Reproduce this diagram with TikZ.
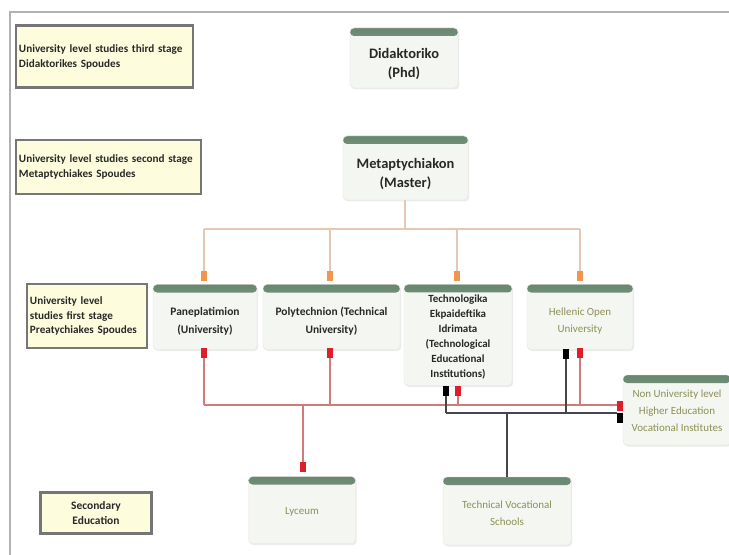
\documentclass[tikz,border=0pt]{standalone}
\usepackage{fontspec}
\setmainfont{Carlito}
\usetikzlibrary{shadows}
\definecolor{hdrA}{RGB}{105,135,112}
\definecolor{hdrB}{RGB}{165,188,170}
\definecolor{nfill}{RGB}{244,246,241}
\definecolor{lblfill}{RGB}{253,253,222}
\definecolor{lbldraw}{RGB}{118,118,118}
\definecolor{olivetxt}{RGB}{140,145,85}
\definecolor{tanline}{RGB}{228,200,178}
\definecolor{orsq}{RGB}{240,150,80}
\definecolor{redsq}{RGB}{222,30,42}
\definecolor{redline}{RGB}{212,120,120}
\definecolor{blkline}{RGB}{70,70,70}
\definecolor{txtdark}{RGB}{40,40,40}
\begin{document}
\begin{tikzpicture}[x=1bp,y=-1bp,
  gnode/.style={rectangle, rounded corners=4bp, fill=nfill, draw=black!10,
    drop shadow={opacity=0.15,shadow xshift=1.2bp,shadow yshift=-1.5bp},
    align=center, inner sep=2bp, text=txtdark,
    path picture={\shade[top color=hdrA, bottom color=hdrB]
      (path picture bounding box.north west) rectangle ([yshift=-8bp]path picture bounding box.north east);}},
  big/.style={font=\bfseries\fontsize{14.5}{19}\selectfont},
  mid/.style={font=\bfseries\fontsize{11.5}{18}\selectfont},
  pale/.style={font=\fontsize{11}{17}\selectfont, text=olivetxt},
  lbl/.style={rectangle, fill=lblfill, draw=lbldraw, line width=2.5bp, align=left,
    font=\bfseries\fontsize{11.2}{15}\selectfont, text=txtdark, inner xsep=3bp},
  sq/.style={rectangle, minimum width=6bp, minimum height=10bp, inner sep=0pt},
  tan/.style={draw=tanline, line width=1.2bp},
  redl/.style={draw=redline, line width=1.2bp},
  blkl/.style={draw=blkline, line width=1.2bp}
]
\useasboundingbox (0,0) rectangle (729,555);
\fill[white] (0,0) rectangle (729,555);
% frame
\draw[black!30, line width=1.5bp] (10,555) -- (10,12) -- (729,12);

% label boxes
\node[lbl, minimum width=177bp, minimum height=62bp, text width=171bp] (l1) at (104.5,56.5)
  {University level studies third stage\\Didaktorikes Spoudes};
\node[lbl, minimum width=185bp, minimum height=54bp, text width=179bp] (l2) at (108.5,167)
  {University level studies second stage\\Metaptychiakes Spoudes};
\node[lbl, minimum width=120bp, minimum height=64bp, text width=114bp] (l3) at (87,316)
  {University level\\studies first stage\\Preatychiakes Spoudes};
\node[lbl, minimum width=111bp, minimum height=41bp, align=center,
  font=\bfseries\fontsize{11.5}{15.5}\selectfont] (l4) at (96,513)
  {Secondary\\Education};

% main nodes
\node[gnode, big, minimum width=108bp, minimum height=60bp] (phd) at (404,58) {\\[4bp]Didaktoriko\\(Phd)};
\node[gnode, big, minimum width=125bp, minimum height=64bp] (master) at (405.5,168) {\\[4bp]Metaptychiakon\\(Master)};
\node[gnode, mid, minimum width=104bp, minimum height=65bp] (pan) at (205,317) {\\[-2bp]Paneplatimion\\(University)};
\node[gnode, mid, minimum width=137bp, minimum height=65bp] (poly) at (331.5,317) {\\[-2bp]Polytechnion (Technical\\University)};
\node[gnode, mid, font=\bfseries\fontsize{11}{15}\selectfont, minimum width=108bp, minimum height=101bp] (tei) at (458,335)
  {\\[-4bp]Technologika\\Ekpaideftika\\Idrimata\\(Technological\\Educational\\Institutions)};
\node[gnode, pale, minimum width=106bp, minimum height=65bp] (hou) at (580,317) {\\[-2bp]Hellenic Open\\University};
\node[gnode, pale, minimum width=108bp, minimum height=70bp] (nonu) at (677,410)
  {\\[-8bp]Non University level\\Higher Education\\Vocational Institutes};
\node[gnode, pale, minimum width=107bp, minimum height=67bp] (lyc) at (302,510) {\\[-7bp]Lyceum};
\node[gnode, pale, minimum width=128bp, minimum height=68bp] (tvs) at (507,511) {\\[-4bp]Technical Vocational\\Schools};

% phd -> master
\draw[draw=black!35, double=white, double distance=1.6bp, line width=0.6bp] (406,92) -- (406,119);

% orange connectors
\coordinate (bm) at (405,229);
\coordinate (b1) at (204,229);
\coordinate (b2) at (330,229);
\coordinate (b3) at (457,229);
\coordinate (b4) at (580,229);
\node[sq, fill=orsq] (o1) at (204,276) {};
\node[sq, fill=orsq] (o2) at (330,276) {};
\node[sq, fill=orsq] (o3) at (457,276) {};
\node[sq, fill=orsq] (o4) at (580,276) {};
\draw[tan] (master.south -| bm) -- (bm);
\draw[tan] (b1) -- (b4);
\draw[tan] (b1) -- (o1.north);
\draw[tan] (b2) -- (o2.north);
\draw[tan] (b3) -- (o3.north);
\draw[tan] (b4) -- (o4.north);

% red / black squares
\node[sq, fill=redsq] (r1) at (204,353) {};
\node[sq, fill=redsq] (r2) at (330,353) {};
\node[sq, fill=black] (k3) at (446,391) {};
\node[sq, fill=redsq] (r3) at (458,391) {};
\node[sq, fill=black] (k4) at (566,354) {};
\node[sq, fill=redsq] (r4) at (580,353) {};
\node[sq, fill=redsq] (r5) at (620,406) {};
\node[sq, fill=black] (k5) at (620,418) {};
\node[sq, fill=redsq] (rl) at (303,467) {};

\coordinate (rb1) at (204,405);
\coordinate (rb2) at (330,405);
\coordinate (rbl) at (303,405);
\coordinate (rb3) at (458,405);
\coordinate (rb4) at (580,405);
\coordinate (kb3) at (446,413);
\coordinate (kb4) at (566,413);
\coordinate (kbt) at (507,413);

% red bus
\draw[redl] (rb1) -- (r5.west |- rb1);
\draw[redl] (r1.south) -- (rb1);
\draw[redl] (r2.south) -- (rb2);
\draw[redl] (r3.south) -- (rb3);
\draw[redl] (r4.south) -- (rb4);
\draw[redl] (rbl) -- (rl.north);
% black bus
\draw[blkl] (kb3) -- (k5.west |- kb3);
\draw[blkl] (k3.south) -- (kb3);
\draw[blkl] (k4.south) -- (kb4);
\draw[blkl] (kbt) -- (tvs.north);
\end{tikzpicture}
\end{document}
